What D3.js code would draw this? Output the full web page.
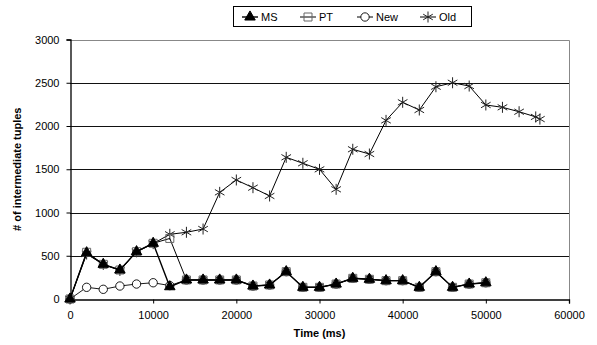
<!DOCTYPE html>
<html>
<head>
<meta charset="utf-8">
<script src="https://cdn.jsdelivr.net/npm/d3@7"></script>
<style>
  body { margin: 0; background: #fff; }
  svg { display: block; font-family: Arial, "Liberation Sans", sans-serif; }
  .tick text { font-size: 11px; fill: #000; }
</style>
</head>
<body>
<svg width="597" height="345"></svg>
<script>
// values
var times = [0, 2000, 4000, 6000, 8000, 10000, 12000, 14000, 16000, 18000, 20000, 22000, 24000,
  26000, 28000, 30000, 32000, 34000, 36000, 38000, 40000, 42000, 44000, 46000, 48000, 50000];
var msValues = [0, 535, 401, 335, 547, 644, 142, 220, 220, 220, 220, 150, 162,
  316, 135, 135, 173, 239, 228, 212, 212, 135, 316, 135, 173, 188];
var ptValues = [0, 540, 401, 335, 547, 644, 700, 220, 220, 220, 220, 150, 162,
  316, 135, 135, 173, 239, 228, 212, 212, 135, 316, 135, 173, 188];
var newValues = [0, 135, 112, 150, 173, 188, 155, 220, 220, 220, 220, 150, 162,
  316, 135, 135, 173, 239, 228, 212, 212, 135, 316, 135, 173, 188];
var oldTimes = [0, 2000, 4000, 6000, 8000, 10000, 12000, 14000, 16000, 18000, 20000, 22000, 24000,
  26000, 28000, 30000, 32000, 34000, 36000, 38000, 40000, 42000, 44000, 46000, 48000, 50000,
  52000, 54000, 56000, 56500];
var oldValues = [0, 520, 400, 330, 545, 640, 748, 771, 809, 1233, 1376, 1287, 1191,
  1638, 1569, 1499, 1268, 1731, 1676, 2065, 2274, 2185, 2454, 2500, 2462, 2243,
  2216, 2165, 2105, 2080];
var xTicks = [0, 10000, 20000, 30000, 40000, 50000, 60000];
var yTicks = [0, 500, 1000, 1500, 2000, 2500, 3000];
var seriesNames = ["MS", "PT", "New", "Old"];

var svg = d3.select("svg");
var plotLeft = 70, plotRight = 569, plotTop = 39.5, plotBottom = 299;

var x = d3.scaleLinear().domain([0, 60000]).range([plotLeft, plotRight]);
var y = d3.scaleLinear().domain([0, 3000]).range([plotBottom, plotTop]);

// gridlines
svg.append("g")
  .selectAll("line")
  .data(yTicks.filter(function(d) { return d > 0 && d < 3000; }))
  .enter().append("line")
    .attr("x1", plotLeft).attr("x2", plotRight)
    .attr("y1", function(d) { return Math.round(y(d)) + 0.5; })
    .attr("y2", function(d) { return Math.round(y(d)) + 0.5; })
    .style("stroke", "#111");

// plot border (top, right)
svg.append("path")
  .attr("d", "M" + plotLeft + "," + (Math.round(plotTop) + 0.5) + "H" + (plotRight + 0.5) + "V" + plotBottom)
  .style("fill", "none").style("stroke", "#888");

// axes
var xAxis = svg.append("g")
    .attr("transform", "translate(0," + (plotBottom + 0.5) + ")")
    .call(d3.axisBottom(x).tickValues(xTicks).tickFormat(d3.format("d")).tickSize(4).tickPadding(8));
var yAxis = svg.append("g")
    .attr("transform", "translate(" + (plotLeft + 0.5) + ",0)")
    .call(d3.axisLeft(y).tickValues(yTicks).tickFormat(d3.format("d")).tickSize(4).tickPadding(7));
[xAxis, yAxis].forEach(function(a) {
  a.select(".domain").style("stroke", "#000").style("stroke-width", 1.3);
  a.selectAll(".tick line").style("stroke", "#000");
  a.selectAll(".tick text").style("font-family", "Arial, 'Liberation Sans', sans-serif");
});

// axis titles
svg.append("text")
  .attr("x", (plotLeft + plotRight) / 2).attr("y", 337)
  .attr("text-anchor", "middle")
  .style("font-size", "11px").style("font-weight", "bold")
  .text("Time (ms)");
svg.append("text")
  .attr("transform", "translate(21," + ((plotTop + plotBottom) / 2) + ") rotate(-90)")
  .attr("text-anchor", "middle")
  .style("font-size", "11px").style("font-weight", "bold")
  .text("# of intermediate tuples");

// series
function pts(ts, vs) { return ts.map(function(t, i) { return [t, vs[i]]; }); }
var line = d3.line().x(function(d) { return x(d[0]); }).y(function(d) { return y(d[1]); });

var starPath = "M0,-5.5V5.5M-4.8,-2.8L4.8,2.8M-4.8,2.8L4.8,-2.8";
var triPath = d3.symbol().type(d3.symbolTriangle).size(48)();
var sqPath = "M-4,-4H4V4H-4Z";

function drawSeries(data, lineWidth, marker) {
  var g = svg.append("g");
  g.append("path").datum(data).attr("d", line)
    .style("fill", "none").style("stroke", "#000").style("stroke-width", lineWidth);
  g.selectAll("path.m").data(data).enter().append("path")
    .attr("class", "m")
    .attr("transform", function(d) { return "translate(" + x(d[0]) + "," + y(d[1]) + ")"; })
    .attr("d", marker.d)
    .style("fill", marker.fill).style("stroke", marker.stroke).style("stroke-width", marker.sw);
}

var markers = {
  MS: { d: triPath, fill: "#000", stroke: "#000", sw: 1 },
  PT: { d: sqPath, fill: "none", stroke: "#666", sw: 1 },
  New: { d: d3.symbol().type(d3.symbolCircle).size(55)(), fill: "#fff", stroke: "#000", sw: 0.9 },
  Old: { d: starPath, fill: "none", stroke: "#222", sw: 1 }
};

drawSeries(pts(oldTimes, oldValues), 1, markers.Old);
drawSeries(pts(times, newValues), 0.9, markers.New);
drawSeries(pts(times, ptValues), 1, markers.PT);
drawSeries(pts(times, msValues), 1.4, markers.MS);

// legend
var lg = svg.append("g");
lg.append("rect").attr("x", 233.5).attr("y", 6.5).attr("width", 238).attr("height", 20)
  .style("fill", "#fff").style("stroke", "#000");
var legendX = [242, 300, 357, 420];
seriesNames.forEach(function(name, i) {
  var cx = legendX[i] + 8, cy = 17;
  lg.append("line").attr("x1", legendX[i]).attr("x2", legendX[i] + 16)
    .attr("y1", cy).attr("y2", cy).style("stroke", "#000").style("stroke-width", name === "MS" ? 1.4 : 1);
  lg.append("path").attr("transform", "translate(" + cx + "," + cy + ")")
    .attr("d", markers[name].d)
    .style("fill", markers[name].fill).style("stroke", markers[name].stroke)
    .style("stroke-width", markers[name].sw);
  lg.append("text").attr("x", legendX[i] + 19).attr("y", cy + 4)
    .style("font-size", "11px").text(name);
});
</script>
</body>
</html>
